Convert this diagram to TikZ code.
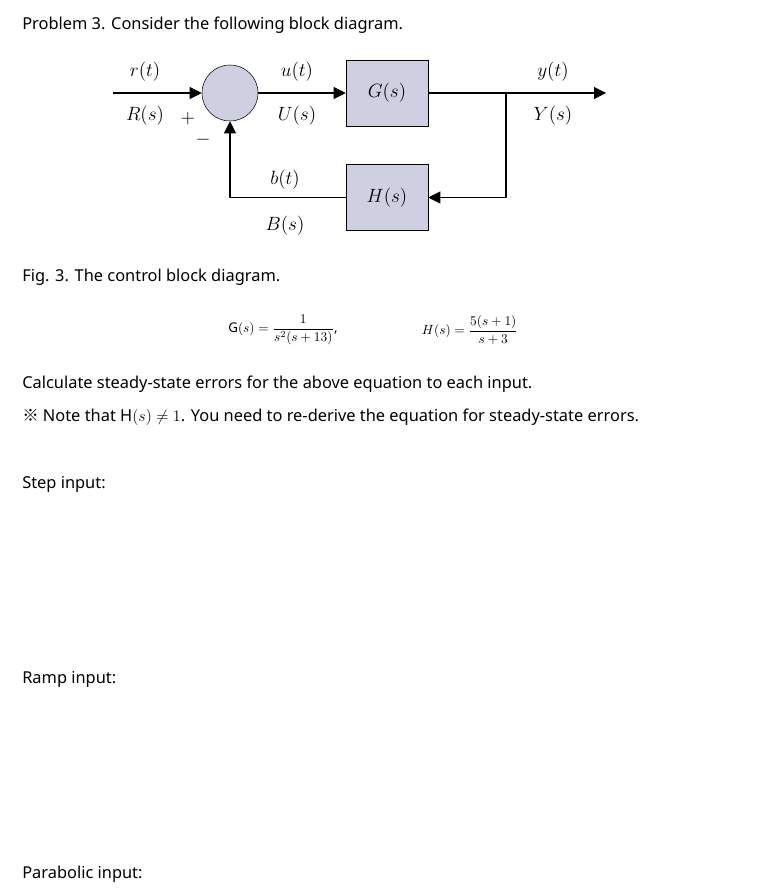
\documentclass[tikz,border=0pt]{standalone}
\usepackage{amsmath}
\usepackage{fontspec}
\setmainfont{Noto Sans}
\newfontfamily\serifdiag{Liberation Serif}
\newfontfamily\cjk{Noto Sans CJK KR}
\usetikzlibrary{positioning, arrows.meta}
\tikzset{
>={Triangle[length=9pt,width=9pt]}, % filled arrow heads
block/.style={draw, fill=blue!25!gray!30, minimum width=61.5pt, minimum height=49.5pt, font=\serifdiag\fontsize{14}{16}\selectfont},
sum/.style={draw, circle, fill=blue!25!gray!30, minimum size=42pt, inner sep=0pt},
sig/.style={font=\serifdiag\fontsize{14}{16}\selectfont},
txt/.style={anchor=west, font=\fontsize{12.3}{14}\selectfont, inner sep=0pt},
}
\begin{document}
\begin{tikzpicture}[x=0.75pt, y=-0.75pt]
\useasboundingbox[fill=white] (0,0) rectangle (766,895);
\node[txt] (title) at (22,25) {\textbf{Problem 3.} Consider the following block diagram.};
% block diagram
\node[sum] (s1) at (230,93) {};
\node[block] (G) at (387,93) {$G(s)$};
\node[block] (H) at (387,197.5) {$H(s)$};
\coordinate (in) at (113,93);
\coordinate (out) at (606,93);
\coordinate (br) at (506,93);
\draw[->, thick] (in) -- (s1);
\draw[->, thick] (s1) -- (G);
\draw[->, thick] (G) -- (out);
\draw[->, thick] (br) |- (H);
\draw[->, thick] (H) -| (s1);
\node[sig] (r) at (145,72) {$r(t)$};
\node[sig] (R) at (145,116) {$R(s)$};
\node[sig] (plus) at (188,119) {$+$};
\node[sig] (minus) at (203,140) {$-$};
\node[sig] (u) at (297,72) {$u(t)$};
\node[sig] (U) at (297,116) {$U(s)$};
\node[sig] (y) at (553,72) {$y(t)$};
\node[sig] (Y) at (553,116) {$Y(s)$};
\node[sig] (b) at (285,180) {$b(t)$};
\node[sig] (B) at (285,226) {$B(s)$};
\node[txt] (fig) at (22,277) {\textbf{Fig. 3.} The control block diagram.};
% transfer functions
\node (geq) at (283,330) {$\mathrm{G}(s)=\dfrac{1}{s^2(s+13)}$,};
\node (heq) at (470,330) {$H(s)=\dfrac{5(s+1)}{s+3}$};
\node[txt] (calc) at (22,384) {Calculate steady-state errors for the above equation to each input.};
\node[txt] (note) at (22,417) {{\cjk ※} Note that $\mathrm{H}(s)\neq 1$. You need to re-derive the equation for steady-state errors.};
\node[txt] (step) at (22,484) {Step input:};
\node[txt] (ramp) at (22,679) {Ramp input:};
\node[txt] (para) at (22,874) {Parabolic input:};
\end{tikzpicture}
\end{document}
